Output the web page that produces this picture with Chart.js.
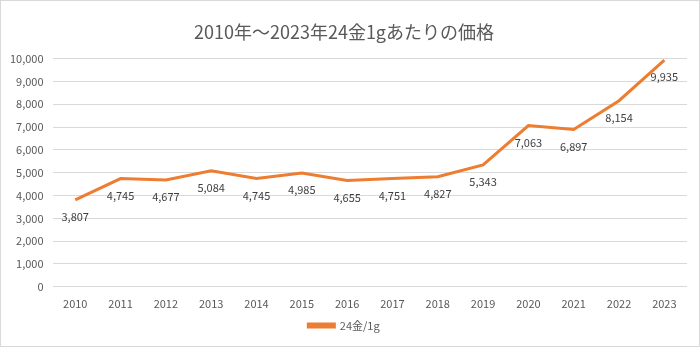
<!DOCTYPE html>
<html>
<head>
<meta charset="utf-8">
<script src="https://cdn.jsdelivr.net/npm/chart.js@4/dist/chart.umd.min.js"></script>
<style>
  html, body { margin: 0; padding: 0; background: #fff; }
  #wrap { position: absolute; left: 0; top: 0; width: 698px; height: 345px; border: 1px solid #d9d9d9; }
</style>
</head>
<body>
<div id="wrap"><canvas id="goldChart" width="698" height="345"></canvas></div>
<script>
    const years = ['2010', '2011', '2012', '2013', '2014', '2015', '2016', '2017', '2018', '2019', '2020', '2021', '2022', '2023'];
    const prices = [3807, 4745, 4677, 5084, 4745, 4985, 4655, 4751, 4827, 5343, 7063, 6897, 8154, 9935];
    const seriesName = '24金/1g';
    const chartTitle = '2010年～2023年24金1gあたりの価格';

    const fontFamily = '"Noto Sans CJK JP", "Noto Sans", sans-serif';
    const textColor = '#595959';

    // draws the value under each point, like Excel's "below" label position
    const belowLabels = {
        id: 'belowLabels',
        afterDatasetsDraw(chart) {
            const ctx = chart.ctx;
            const meta = chart.getDatasetMeta(0);
            ctx.save();
            ctx.font = '11px ' + fontFamily;
            ctx.fillStyle = '#404040';
            ctx.textAlign = 'center';
            ctx.textBaseline = 'middle';
            meta.data.forEach((pt, i) => {
                ctx.fillText(prices[i].toLocaleString('en-US'), pt.x, pt.y + 17);
            });
            ctx.restore();
        }
    };

    const ctx = document.getElementById('goldChart').getContext('2d');
    new Chart(ctx, {
        type: 'line',
        data: {
            labels: years,
            datasets: [{
                label: seriesName,
                data: prices,
                borderColor: '#ED7D31',
                backgroundColor: '#ED7D31',
                borderWidth: 3,
                pointRadius: 0,
                tension: 0,
                fill: false
            }]
        },
        options: {
            responsive: false,
            animation: false,
            layout: { padding: { left: 0, right: 12, top: 10, bottom: 5 } },
            plugins: {
                title: {
                    display: true,
                    text: chartTitle,
                    color: textColor,
                    font: { family: fontFamily, size: 18, weight: 'normal' },
                    padding: { top: 10, bottom: 16 }
                },
                legend: {
                    position: 'bottom',
                    labels: {
                        color: textColor,
                        font: { family: fontFamily, size: 11 },
                        boxWidth: 26,
                        boxHeight: 3,
                        padding: 8
                    }
                },
                tooltip: { enabled: false }
            },
            scales: {
                x: {
                    offset: true,
                    grid: { display: false },
                    border: { display: false },
                    ticks: { color: textColor, font: { family: fontFamily, size: 11 }, padding: 2 }
                },
                y: {
                    min: 0,
                    max: 10000,
                    ticks: {
                        stepSize: 1000,
                        color: textColor,
                        font: { family: fontFamily, size: 11 },
                        padding: 9,
                        callback: v => v.toLocaleString('en-US')
                    },
                    grid: { color: '#d9d9d9', drawTicks: false },
                    border: { display: false }
                }
            }
        },
        plugins: [belowLabels]
    });
</script>
</body>
</html>
